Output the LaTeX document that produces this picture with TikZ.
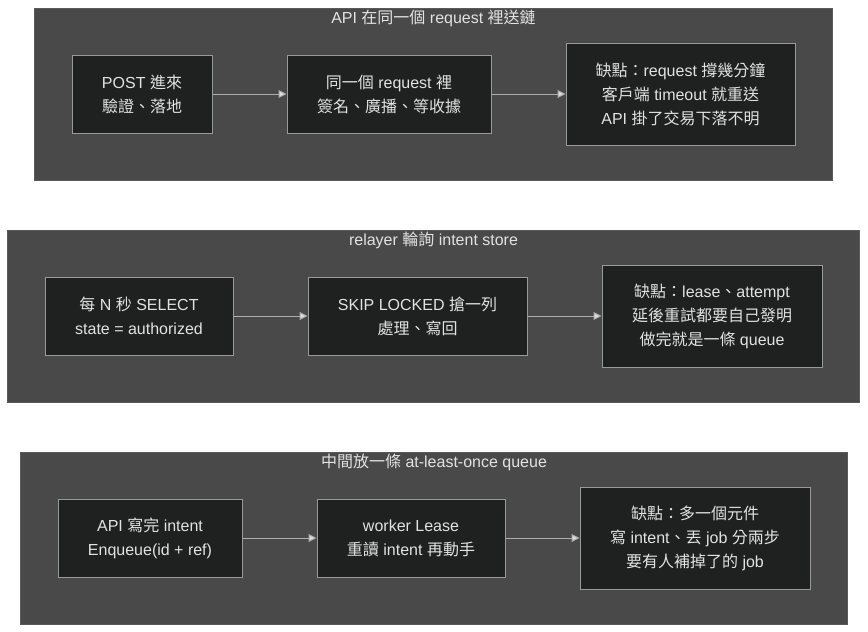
\documentclass[tikz,border=0pt]{standalone}
\usepackage{fontspec}
\setmainfont{Liberation Sans}
\newfontfamily\cjk{Noto Sans CJK TC}
\usetikzlibrary{positioning, arrows.meta, fit, backgrounds}
\tikzset{%
  box/.style={
    draw=boxedge,
    fill=boxblack,
    text=inkgray,
    line width=1pt,
    align=center,
    inner sep=0pt,
    minimum height=78pt,
    font=\fontsize{16}{24}\selectfont
  },
  note/.style={
    box,
    minimum height=102pt
  },
  panel/.style={
    draw=paneledge,
    fill=panelgray,
    line width=1pt,
    inner xsep=37pt,
    inner ysep=34.5pt
  },
  caption/.style={
    text=inkgray,
    inner sep=0pt,
    font=\fontsize{16}{24}\selectfont
  },
  link/.style={
    draw=linkgray,
    line width=1pt,
    -{Triangle[length=8pt, width=8pt, fill=tipgray]}
  }
}
\definecolor{panelgray}{HTML}{484948}
\definecolor{paneledge}{HTML}{5A5A5A}
\definecolor{boxblack}{HTML}{1F2020}
\definecolor{boxedge}{HTML}{9A9A9A}
\definecolor{inkgray}{HTML}{E2E2E2}
\definecolor{linkgray}{HTML}{ADADAD}
\definecolor{tipgray}{HTML}{DDDDDD}

\begin{document}
\begin{tikzpicture}[x=1pt, y=1pt]
		\useasboundingbox (0,0) rectangle (868,-632);
		% row 1: sending inside the request
		\node[box, minimum width=140pt] (post) at (142,-94) {POST {\cjk 進來}\\{\cjk 驗證、落地}};
		\node[box, minimum width=204pt, right=74pt of post] (inreq) {{\cjk 同一個} request {\cjk 裡}\\{\cjk 簽名、廣播、等收據}};
		\node[note, minimum width=229pt, right=74pt of inreq] (con1) {{\cjk 缺點：}request {\cjk 撐幾分鐘}\\{\cjk 客戶端} timeout {\cjk 就重送}\\API {\cjk 掛了交易下落不明}};
		\draw[link] (post) -- (inreq);
		\draw[link] (inreq) -- (con1);
		% row 2: relayer polling
		\node[box, minimum width=188pt] (poll) at (139,-316) {{\cjk 每} N {\cjk 秒} SELECT\\state = authorized};
		\node[box, minimum width=219pt, right=74pt of poll] (skip) {SKIP LOCKED {\cjk 搶一列}\\{\cjk 處理、寫回}};
		\node[note, minimum width=220pt, right=74pt of skip] (con2) {{\cjk 缺點：}lease{\cjk 、}attempt\\{\cjk 延後重試都要自己發明}\\{\cjk 做完就是一條} queue};
		\draw[link] (poll) -- (skip);
		\draw[link] (skip) -- (con2);
		% row 3: queue in between
		\node[box, minimum width=184pt] (enq) at (150,-538) {API {\cjk 寫完} intent\\Enqueue(id + ref)};
		\node[box, minimum width=188pt, right=74pt of enq] (lease) {worker Lease\\{\cjk 重讀} intent {\cjk 再動手}};
		\node[note, minimum width=230pt, right=74pt of lease] (con3) {{\cjk 缺點：多一個元件}\\{\cjk 寫} intent{\cjk 、丟} job {\cjk 分兩步}\\{\cjk 要有人補掉了的} job};
		\draw[link] (enq) -- (lease);
		\draw[link] (lease) -- (con3);
		% panels
		\begin{scope}[on background layer]
			\node[panel, fit=(post)(con1)] (sync) {};
			\node[panel, fit=(poll)(con2)] (relay) {};
			\node[panel, fit=(enq)(con3)] (queue) {};
		\end{scope}
		\node[caption] (t1) at ([yshift=-11pt]sync.north) {API {\cjk 在同一個} request {\cjk 裡送鏈}};
		\node[caption] (t2) at ([yshift=-11pt]relay.north) {relayer {\cjk 輪詢} intent store};
		\node[caption] (t3) at ([yshift=-11pt]queue.north) {{\cjk 中間放一條} at-least-once queue};
	\end{tikzpicture}
\end{document}
